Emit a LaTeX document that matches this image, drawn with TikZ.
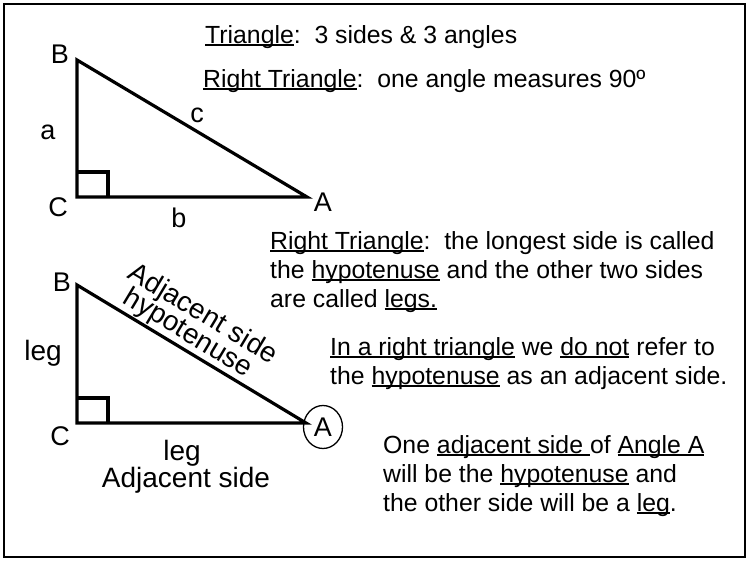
\documentclass[tikz,border=0pt]{standalone}
\usepackage{fontspec}
\setmainfont{Liberation Sans}
\usetikzlibrary{shapes.geometric}
\newsavebox\ulbox
\newcommand\ulx[1]{\sbox\ulbox{#1}\rlap{\rule[-2.6pt]{\wd\ulbox}{1.3pt}}\usebox\ulbox}
\tikzset{
  body/.style={font=\fontsize{24.8}{29}\selectfont, anchor=base west, inner sep=0pt},
  lab/.style={font=\fontsize{27}{30}\selectfont, inner sep=0pt},
  big/.style={font=\fontsize{28}{32}\selectfont, inner sep=0pt},
  tri/.style={line width=3.2pt, line join=miter},
  frame/.style={line width=2pt},
}
\begin{document}
\frenchspacing
\begin{tikzpicture}[x=1pt,y=-1pt]
\useasboundingbox (0,0) rectangle (747,560);
\draw[frame] (3.5,3.5) rectangle (744.5,557);

% texts
\node[body] (t1) at (205,43) {\ulx{Triangle}:\ \ 3 sides \& 3 angles};
\node[body] (t2) at (203,87) {\ulx{Right Triangle}:\ \ one angle measures 90º};
\node[body] (p1) at (270,249) {\ulx{Right Triangle}:\ \ the longest side is called};
\node[body] (p2) at (270,278) {the \ulx{hypotenuse} and the other two sides};
\node[body] (p3) at (270,307) {are called \ulx{legs.}};
\node[body] (q1) at (330,355) {\ulx{In a right triangle} we \ulx{do not} refer to};
\node[body] (q2) at (330,384) {the \ulx{hypotenuse} as an adjacent side.};
\node[body] (r1) at (383,453) {One \ulx{adjacent side }of \ulx{Angle A}};
\node[body] (r2) at (383,482) {will be the \ulx{hypotenuse} and};
\node[body] (r3) at (383,511) {the other side will be a \ulx{leg}.};

% triangle 1
\coordinate (B1) at (77,60);
\coordinate (C1) at (77,197);
\coordinate (A1) at (307,197);
\draw[tri] (B1) -- (C1) -- (A1) -- cycle;
\draw[tri] (C1) ++(0,-25) -| ++(31,25);
\node[lab] (lB1) at (60,54) {B};
\node[lab] (lC1) at (58,207) {C};
\node[lab] (lA1) at (323,202) {A};
\node[lab] (la) at (48,132) {a};
\node[lab] (lc) at (197,115) {c};
\node[lab] (lb) at (179,218) {b};

% triangle 2
\coordinate (B2) at (77,285);
\coordinate (C2) at (77,423);
\coordinate (A2) at (306,423);
\draw[tri] (B2) -- (C2) -- (A2) -- cycle;
\draw[tri] (C2) ++(0,-25) -| ++(31,25);
\node[lab] (lB2) at (62,282) {B};
\node[lab] (lC2) at (60,436) {C};
\node[lab, draw, ellipse, line width=1.3pt, minimum width=39pt, minimum height=43pt] (lA2) at (323,427) {A};
\node[big] (legl) at (43,353) {leg};
\node[big] (legb) at (182,453) {leg};
\node[big] (adjb) at (186,480) {Adjacent side};
\node[big, rotate=-30.96] (hyp) at (187.6,333.8) {hypotenuse};
\node[big, rotate=-30.96] (adjh) at (202.6,314.9) {Adjacent side};
\end{tikzpicture}
\end{document}
